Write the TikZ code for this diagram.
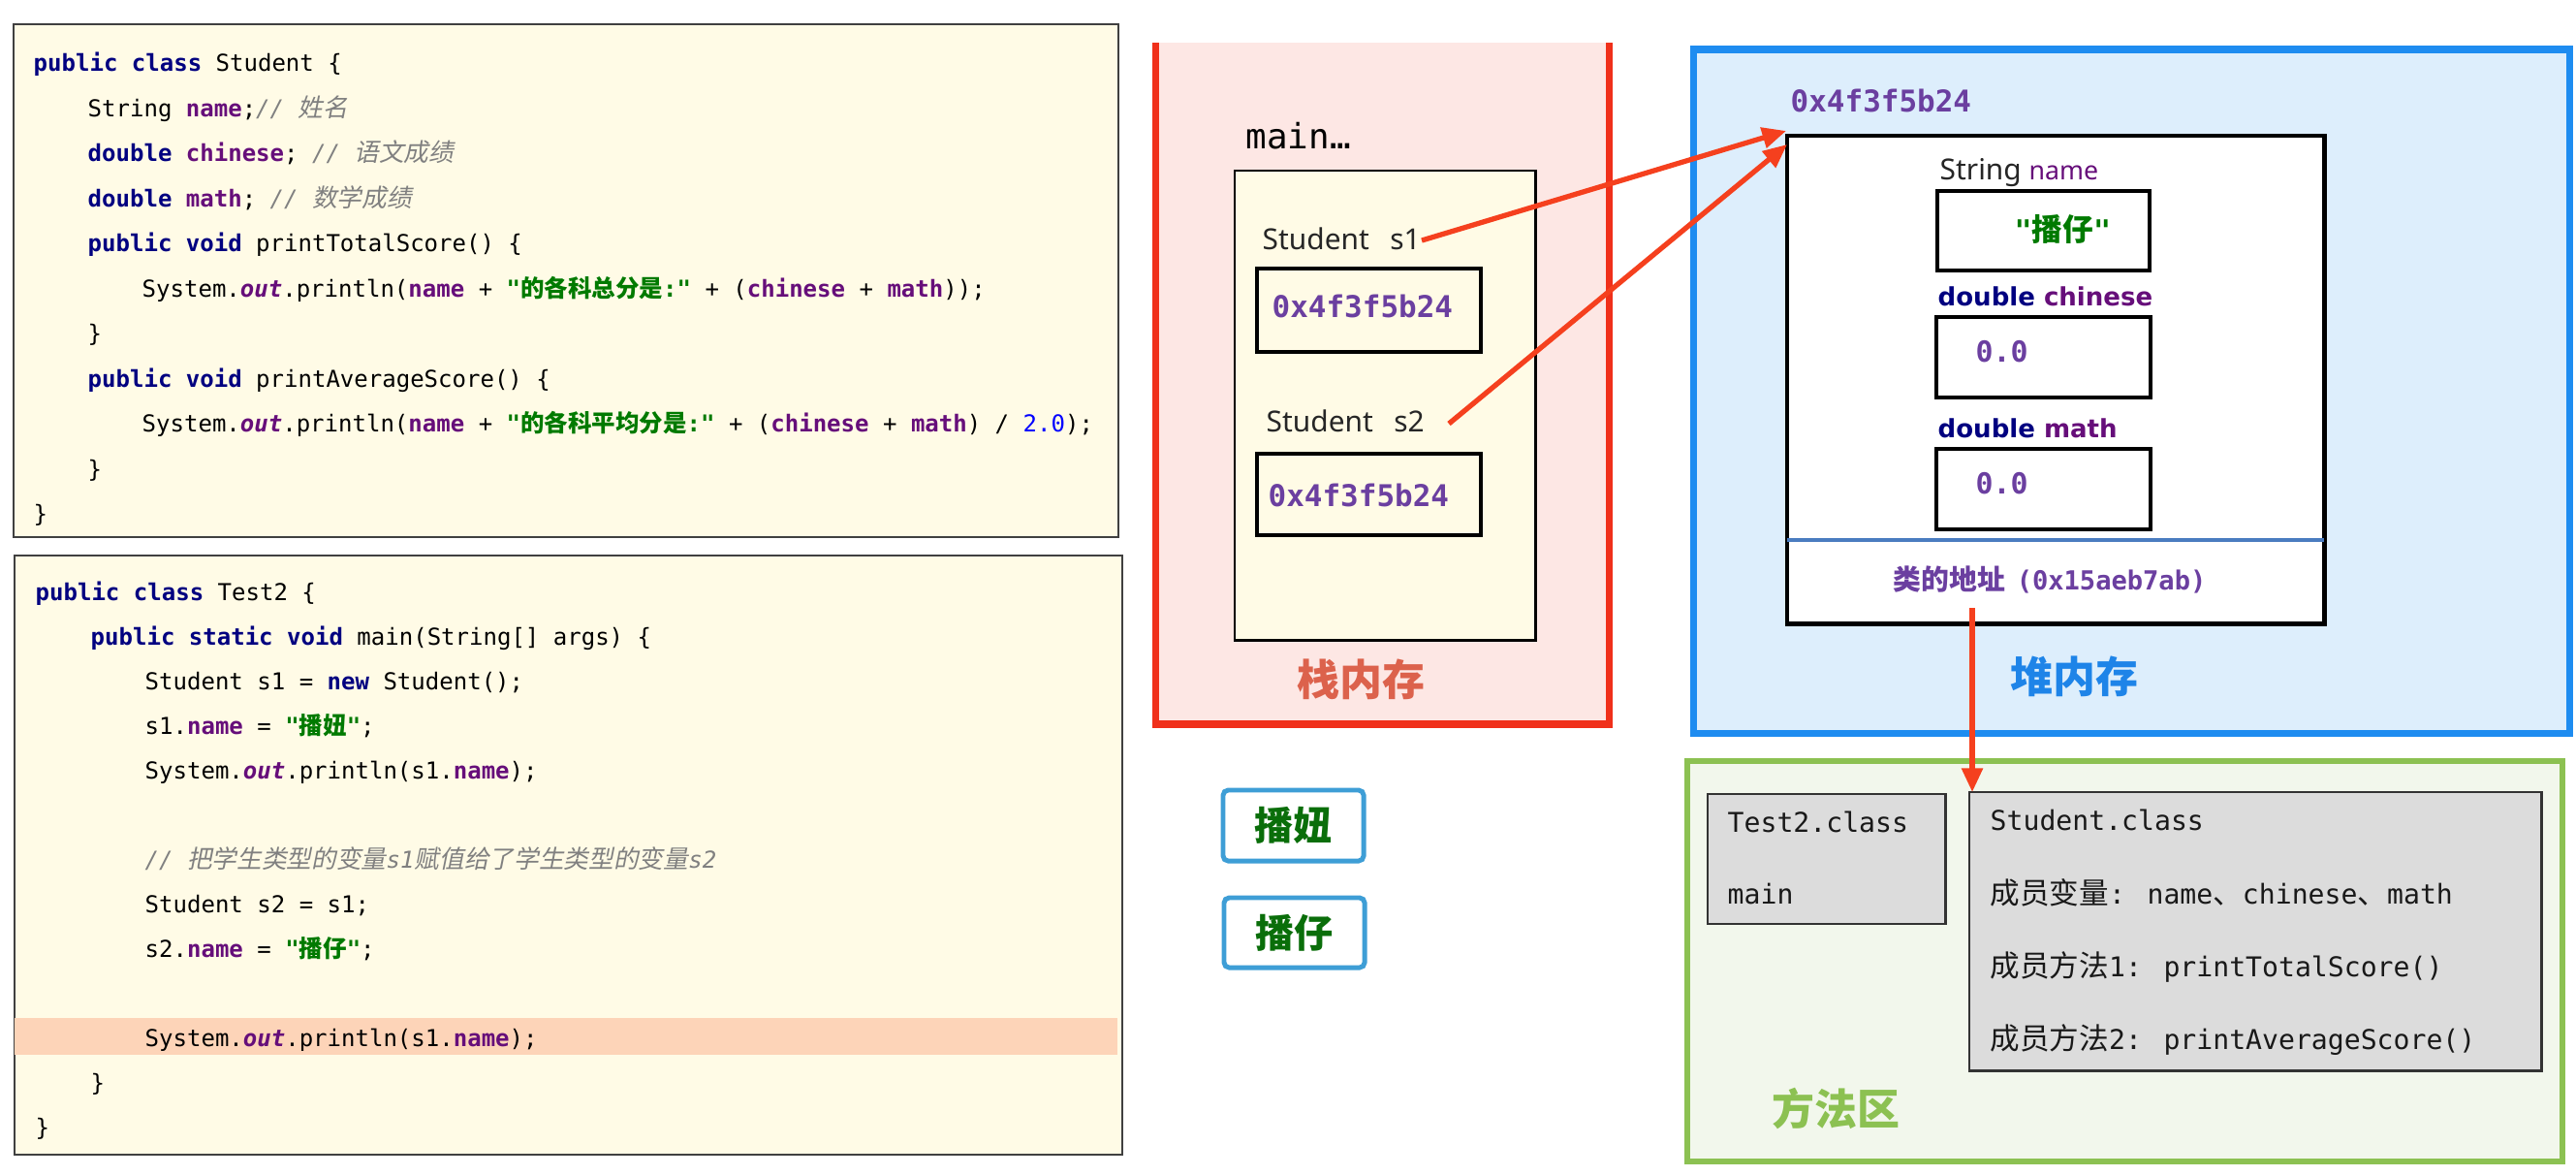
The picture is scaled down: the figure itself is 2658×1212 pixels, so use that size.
\documentclass[tikz,border=0pt]{standalone}
\usepackage{fontspec}
\usetikzlibrary{arrows.meta}
\newfontfamily\mono{DejaVu Sans Mono}
\newfontfamily\cjk[AutoFakeSlant=0.2]{Noto Sans CJK SC}
\newfontfamily\cjkc[AutoFakeSlant=0.2,Scale=1.02]{Noto Sans CJK SC}
\newfontfamily\cjkm[AutoFakeSlant=0.2,Scale=1.07]{Noto Sans CJK SC}
\newfontfamily\nsans{Noto Sans}
\newfontfamily\dvs{DejaVu Sans}
\newcommand\fsz[1]{\fontsize{#1}{#1}\selectfont}
\definecolor{kwc}{HTML}{000080}
\definecolor{fdc}{HTML}{660E7A}
\definecolor{stc}{HTML}{007A00}
\definecolor{cmc}{HTML}{808080}
\definecolor{nmc}{HTML}{0000FF}
\definecolor{addr}{HTML}{6B3FA0}
\definecolor{panel}{HTML}{FFFBE6}
\definecolor{hlc}{HTML}{FDD4B8}
\definecolor{stackred}{HTML}{F0301A}
\definecolor{stackfill}{HTML}{FDE7E4}
\definecolor{stacklbl}{HTML}{DC624C}
\definecolor{heapblue}{HTML}{1E8CF0}
\definecolor{heapfill}{HTML}{DDEEFC}
\definecolor{heaplbl}{HTML}{1E84E8}
\definecolor{divc}{HTML}{4A7CC0}
\definecolor{mgreen}{HTML}{8CC152}
\definecolor{mfill}{HTML}{F2F7EC}
\definecolor{grayb}{HTML}{DCDCDC}
\definecolor{bnblue}{HTML}{3E9ED6}
\definecolor{bngreen}{HTML}{0A6E0A}
\definecolor{arrred}{HTML}{F5401E}
\newcommand\jkw[1]{{\bfseries\color{kwc}#1}}
\newcommand\jfd[1]{{\bfseries\color{fdc}#1}}
\newcommand\jout[1]{{\bfseries\itshape\color{fdc}#1}}
\newcommand\jst[1]{{\bfseries\color{stc}#1}}
\newcommand\jcm[1]{{\itshape\color{cmc}#1}}
\newcommand\jnum[1]{{\color{nmc}#1}}
\tikzset{
  codeln/.style={anchor=base west, inner sep=0pt, font=\mono\fsz{6.83pt}},
  boxnw/.style={anchor=north west, inner sep=0pt, outer sep=0pt},
  txt/.style={anchor=base west, inner sep=0pt},
  arr/.style={draw=arrred, line width=1.5pt, -{Triangle[length=7pt,width=6pt]}},
  biglbl/.style={inner sep=0pt, font=\cjk\bfseries\fsz{12.5pt}},
  valbox/.style={boxnw, draw=black, line width=1.2pt},
  graybox/.style={boxnw, draw=black!80, fill=grayb, line width=0.8pt},
  bnbox/.style={boxnw, draw=bnblue, fill=white, line width=1.4pt, rounded corners=1.5pt, font=\cjk\bfseries\fsz{11.4pt}, text=bngreen},
  mtxt/.style={txt, font=\mono\fsz{8pt}, text=black!90}
}
\begin{document}
\begin{tikzpicture}[x=0.01cm,y=-0.01cm]
\useasboundingbox (0,0) rectangle (2658,1212);
\fill[white] (0,0) rectangle (2658,1212);

% ---------- code panel 1 ----------
\node[boxnw, draw=black!75, fill=panel, line width=0.6pt, minimum width=11.39cm, minimum height=5.29cm] (panel1) at (14,25) {};
\node[codeln] (a1) at (34,73) {\jkw{public class} Student \{};
\node[codeln] (a2) at (90,120) {String \jfd{name};\jcm{// {\cjkm 姓名}}};
\node[codeln] (a3) at (90,166) {\jkw{double} \jfd{chinese}; \jcm{// {\cjkm 语文成绩}}};
\node[codeln] (a4) at (90,213) {\jkw{double} \jfd{math}; \jcm{// {\cjkm 数学成绩}}};
\node[codeln] (a5) at (90,259) {\jkw{public void} printTotalScore() \{};
\node[codeln] (a6) at (146,306) {System.\jout{out}.println(\jfd{name} + \jst{"{\cjkc 的各科总分是}:"} + (\jfd{chinese} + \jfd{math}));};
\node[codeln] (a7) at (90,352) {\}};
\node[codeln] (a8) at (90,399) {\jkw{public void} printAverageScore() \{};
\node[codeln] (a9) at (146,445) {System.\jout{out}.println(\jfd{name} + \jst{"{\cjkc 的各科平均分是}:"} + (\jfd{chinese} + \jfd{math}) / \jnum{2.0});};
\node[codeln] (a10) at (90,492) {\}};
\node[codeln] (a11) at (34,538) {\}};

% ---------- code panel 2 ----------
\node[boxnw, draw=black!75, fill=panel, line width=0.6pt, minimum width=11.42cm, minimum height=6.18cm] (panel2) at (15,573) {};
\node[boxnw, fill=hlc, minimum width=11.37cm, minimum height=0.38cm] (hl) at (15,1050) {};
\node[codeln] (b1) at (36,619) {\jkw{public class} Test2 \{};
\node[codeln] (b2) at (93,665) {\jkw{public static void} main(String[] args) \{};
\node[codeln] (b3) at (149,711) {Student s1 = \jkw{new} Student();};
\node[codeln] (b4) at (149,757) {s1.\jfd{name} = \jst{"{\cjkc 播妞}"};};
\node[codeln] (b5) at (149,803) {System.\jout{out}.println(s1.\jfd{name});};
\node[codeln] (b6) at (149,895) {\jcm{// {\cjkm 把学生类型的变量}s1{\cjkm 赋值给了学生类型的变量}s2}};
\node[codeln] (b7) at (149,941) {Student s2 = s1;};
\node[codeln] (b8) at (149,987) {s2.\jfd{name} = \jst{"{\cjkc 播仔}"};};
\node[codeln] (b9) at (149,1079) {System.\jout{out}.println(s1.\jfd{name});};
\node[codeln] (b10) at (93,1125) {\}};
\node[codeln] (b11) at (36,1171) {\}};

% ---------- stack ----------
\fill[stackfill] (1192,44) rectangle (1660,747);
\draw[stackred, line width=2pt, line join=miter] (1192,44) -- (1192,747) -- (1660,747) -- (1660,44);
\node[txt, font=\mono\fsz{10.2pt}] (mainlbl) at (1285,153) {main…};
\node[boxnw, draw=black, fill=panel, line width=0.8pt, minimum width=3.10cm, minimum height=4.84cm] (frame) at (1274,176) {};
\node[txt, font=\nsans\fsz{8.5pt}, text=black!85] (s1lbl) at (1302,257) {Student\hspace{0.72em}s1};
\node[valbox, minimum width=2.31cm, minimum height=0.86cm] (s1box) at (1297,277) {};
\node[txt, font=\mono\bfseries\fsz{8.8pt}, text=addr] (s1val) at (1312,327) {0x4f3f5b24};
\node[txt, font=\nsans\fsz{8.5pt}, text=black!85] (s2lbl) at (1306,445) {Student\hspace{0.72em}s2};
\node[valbox, minimum width=2.31cm, minimum height=0.84cm] (s2box) at (1297,468) {};
\node[txt, font=\mono\bfseries\fsz{8.8pt}, text=addr] (s2val) at (1308,522) {0x4f3f5b24};
\node[biglbl, text=stacklbl] (stacklabel) at (1404,701) {栈内存};

% ---------- heap ----------
\node[boxnw, draw=heapblue, fill=heapfill, line width=2pt, minimum width=9.04cm, minimum height=7.05cm] (heap) at (1747,51) {};
\node[txt, font=\mono\bfseries\fsz{8.8pt}, text=addr] (objaddr) at (1847,115) {0x4f3f5b24};
\node[boxnw, draw=black, fill=white, line width=1.4pt, minimum width=5.54cm, minimum height=5.03cm] (obj) at (1844,140) {};
\draw[divc, line width=1.1pt] (obj.west |- 0,557) -- (obj.east |- 0,557);
\node[txt, font=\nsans\fsz{8.5pt}, text=black!85] (namelbl) at (2001,185) {String {\color{fdc}\fsz{7.6pt}name}};
\node[valbox, minimum width=2.19cm, minimum height=0.82cm] (namebox) at (1999,197) {};
\node[txt, text=stc] (nameval) at (2078,248) {{\mono\bfseries\fsz{8.5pt}"}{\cjk\bfseries\fsz{9pt}播仔}{\mono\bfseries\fsz{8.5pt}"}};
\node[txt, font=\dvs\bfseries\fsz{7.4pt}] (chlbl) at (1999,315) {{\color{kwc}double} {\color{fdc}chinese}};
\node[valbox, minimum width=2.21cm, minimum height=0.83cm] (chbox) at (1998,327) {};
\node[txt, font=\mono\bfseries\fsz{8.5pt}, text=addr] (chval) at (2038,373) {0.0};
\node[txt, font=\dvs\bfseries\fsz{7.4pt}] (malbl) at (1999,451) {{\color{kwc}double} {\color{fdc}math}};
\node[valbox, minimum width=2.21cm, minimum height=0.83cm] (mabox) at (1998,463) {};
\node[txt, font=\mono\bfseries\fsz{8.5pt}, text=addr] (maval) at (2038,509) {0.0};
\node[txt, text=addr] (clsaddr) at (1953,608) {{\cjk\bfseries\fsz{8.2pt}类的地址} {\mono\bfseries\fsz{7.7pt}(0x15aeb7ab)}};
\node[biglbl, text=heaplbl] (heaplabel) at (2140,698) {堆内存};

% ---------- method area ----------
\node[boxnw, draw=mgreen, fill=mfill, line width=1.7pt, minimum width=9.02cm, minimum height=4.13cm] (method) at (1741,785) {};
\node[graybox, minimum width=2.45cm, minimum height=1.34cm] (t2box) at (1762,819) {};
\node[mtxt] (t2a) at (1782,858) {Test2.class};
\node[mtxt] (t2b) at (1782,932) {main};
\node[graybox, minimum width=5.90cm, minimum height=2.87cm] (scbox) at (2032,817) {};
\node[mtxt] (sc1) at (2053,856) {Student.class};
\node[mtxt] (sc2) at (2053,932) {{\cjk\fsz{8.7pt}成员变量}: name{\cjk\fsz{8.7pt}、}chinese{\cjk\fsz{8.7pt}、}math};
\node[mtxt] (sc3) at (2053,1007) {{\cjk\fsz{8.7pt}成员方法}1: printTotalScore()};
\node[mtxt] (sc4) at (2053,1082) {{\cjk\fsz{8.7pt}成员方法}2: printAverageScore()};
\node[biglbl, text=mgreen] (methodlabel) at (1894,1144) {方法区};

% ---------- loose strings ----------
\node[bnbox, minimum width=1.45cm, minimum height=0.73cm] (bn1) at (1262,815) {播妞};
\node[bnbox, minimum width=1.45cm, minimum height=0.72cm] (bn2) at (1263,926) {播仔};

% ---------- arrows ----------
\coordinate (a1s) at (1467,248);
\coordinate (a1e) at (1843,135);
\coordinate (a2s) at (1495,437);
\coordinate (a2e) at (1844,149);
\coordinate (a3s) at (2035,627);
\draw[arr] (a1s) -- (a1e);
\draw[arr] (a2s) -- (a2e);
\draw[arr] (a3s) -- (a3s |- scbox.north);
\end{tikzpicture}
\end{document}
